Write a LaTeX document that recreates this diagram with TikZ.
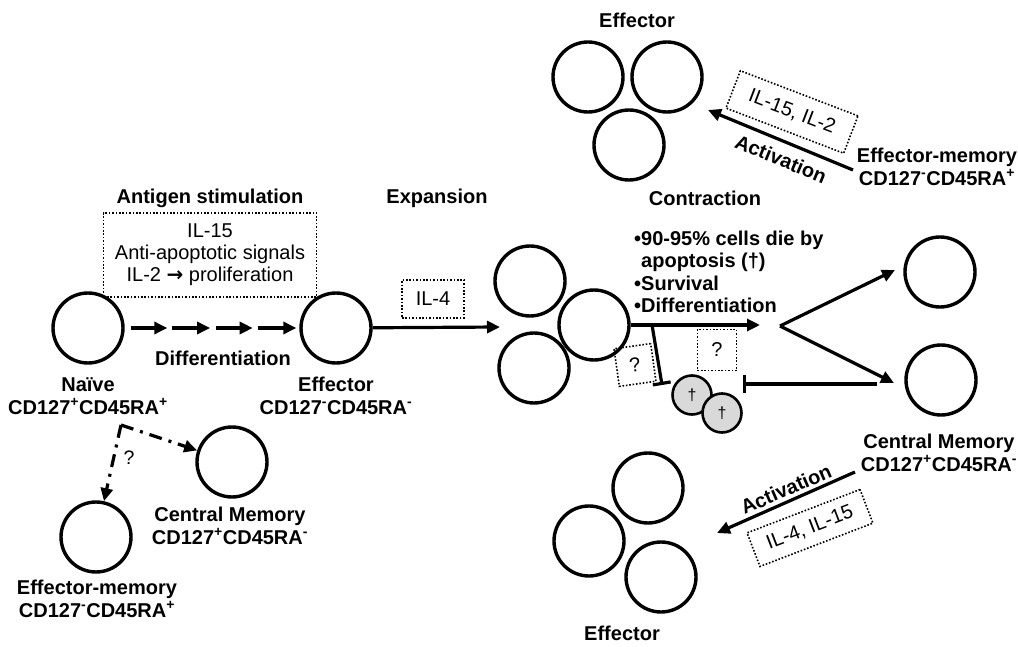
\documentclass[tikz,border=0pt]{standalone}
\usepackage{fontspec}
\setmainfont{Liberation Sans}
\newfontfamily\symfont{DejaVu Sans}
\usetikzlibrary{arrows.meta,calc}
\begin{document}
\begin{tikzpicture}[x=1pt,y=-1pt,
  cell/.style={circle,draw,line width=3.4pt,minimum size=70pt,inner sep=0pt},
  dead/.style={circle,draw,fill=gray!30,line width=2.6pt,minimum size=39pt,inner sep=0pt,font=\fontsize{16}{18}\selectfont},
  lbl/.style={font=\fontsize{20}{22.5}\selectfont\bfseries,align=center,inner sep=0pt},
  txt/.style={font=\fontsize{19.5}{22.5}\selectfont,align=center,inner sep=0pt},
  boxt/.style={draw,dash pattern=on 1.6pt off 1.8pt,line width=1.6pt,font=\fontsize{20}{22}\selectfont,align=center,inner sep=0pt},
  arr/.style={line width=3.2pt,-{Triangle[length=13pt,width=12pt]}},
  inh/.style={line width=3.2pt,-{Bar[width=18pt,line width=3.2pt]}},
  dd/.style={line width=3.2pt,dash pattern=on 13pt off 7pt on 3pt off 7pt,-{Triangle[length=13pt,width=12pt]}}
]
\useasboundingbox (0,0) rectangle (1018,647);

% ---- left part ----
\node[lbl] (antigen) at (210,198) {Antigen stimulation};
\node[boxt,minimum width=213pt,minimum height=84pt] (box1) at (210,255) {IL-15\\Anti-apoptotic signals\\IL-2 {\symfont\bfseries →} proliferation};
\node[cell] (naive) at (88,328) {};
\node[cell] (eff1) at (336,328) {};
\path (naive.east) -- (eff1.west)
  coordinate[pos=0.034] (a1) coordinate[pos=0.244] (a2)
  coordinate[pos=0.273] (a3) coordinate[pos=0.489] (a4)
  coordinate[pos=0.523] (a5) coordinate[pos=0.733] (a6)
  coordinate[pos=0.761] (a7) coordinate[pos=0.983] (a8);
\draw[arr] (a1) -- (a2);
\draw[arr] (a3) -- (a4);
\draw[arr] (a5) -- (a6);
\draw[arr] (a7) -- (a8);
\node[lbl] (diff) at (223,358) {Differentiation};
\node[lbl] (naivelbl) at (88,396) {Naïve\\CD127\textsuperscript{+}CD45RA\textsuperscript{+}};
\node[lbl] (eff1lbl) at (336,396) {Effector\\CD127\textsuperscript{-}CD45RA\textsuperscript{-}};

\node[cell] (cm1) at (232,462) {};
\node[cell] (em1) at (96,537) {};
\coordinate (split) at (121,425);
\draw[dd] (split) -- (em1);
\draw[dd] (split) -- (cm1);
\node[txt] (q1) at (129,458) {?};
\node[lbl] (cm1lbl) at (230,526) {Central Memory\\CD127\textsuperscript{+}CD45RA\textsuperscript{-}};
\node[lbl] (em1lbl) at (97,599) {Effector-memory\\CD127\textsuperscript{-}CD45RA\textsuperscript{+}};

% ---- expansion ----
\node[lbl] (expansion) at (437,198) {Expansion};
\node[boxt,minimum width=62pt,minimum height=38pt] (il4) at (433,299) {IL-4};
\coordinate (expend) at (500,327);
\draw[arr] (eff1) -- (expend);
\node[cell] (c1) at (530,281) {};
\node[cell] (c2) at (594,325) {};
\node[cell] (c3) at (534,368) {};

% ---- contraction ----
\node[lbl] (contraction) at (705,198) {Contraction};
\node[lbl,align=left,anchor=west] (bullets) at (634,272) {•90-95\% cells die by\\\hphantom{•}apoptosis (†)\\•Survival\\•Differentiation};
\coordinate (ctend) at (760,325);
\draw[arr] (c2) -- (ctend);
\coordinate (inhs) at (652,325);
\coordinate (inhe) at (662,385);
\draw[inh] (inhs) -- (inhe);
\node[boxt,minimum width=37pt,minimum height=38pt,rotate=8] (qa) at (635,365) {?};
\node[boxt,minimum width=39pt,minimum height=41pt] (qb) at (717,350) {?};
\node[dead] (d1) at (692,395) {†};
\node[dead] (d2) at (722,413) {†};

\coordinate (fork) at (780,326);
\coordinate (tipu) at (895,270);
\coordinate (tipl) at (894,383);
\draw[arr] (fork) -- (tipu);
\draw[arr] (fork) -- (tipl);
\coordinate (inhr) at (877,384);
\coordinate (inhl) at (743,384);
\draw[inh] (inhr) -- (inhl);
\node[cell] (em2) at (940,272) {};
\node[cell] (cm2) at (941,380) {};
\node[lbl] (cm2lbl) at (939,453) {Central Memory\\CD127\textsuperscript{+}CD45RA\textsuperscript{-}};

% ---- top right ----
\node[lbl] (efftop) at (637,20) {Effector};
\node[cell] (t1) at (588,77) {};
\node[cell] (t2) at (667,77) {};
\node[cell] (t3) at (629,145) {};
\node[lbl] (em2lbl) at (937,167) {Effector-memory\\CD127\textsuperscript{-}CD45RA\textsuperscript{+}};
\coordinate (acts) at (853,170);
\coordinate (acte) at (708,110);
\draw[arr] (acts) -- (acte);
\node[lbl,rotate=-22.5] (act1) at (781,159) {Activation};
\node[boxt,minimum width=126pt,minimum height=40pt,rotate=-21] (il15) at (792,112) {IL-15, IL-2};

% ---- bottom right ----
\coordinate (act2s) at (855,472);
\coordinate (act2e) at (717,533);
\draw[arr] (act2s) -- (act2e);
\node[lbl,rotate=23.5] (act2) at (786,489) {Activation};
\node[boxt,minimum width=121pt,minimum height=36pt,rotate=21] (il415) at (810,528) {IL-4, IL-15};
\node[cell] (b1) at (648,488) {};
\node[cell] (b2) at (589,541) {};
\node[cell] (b3) at (661,577) {};
\node[lbl] (effbot) at (622,633) {Effector};
\end{tikzpicture}
\end{document}
